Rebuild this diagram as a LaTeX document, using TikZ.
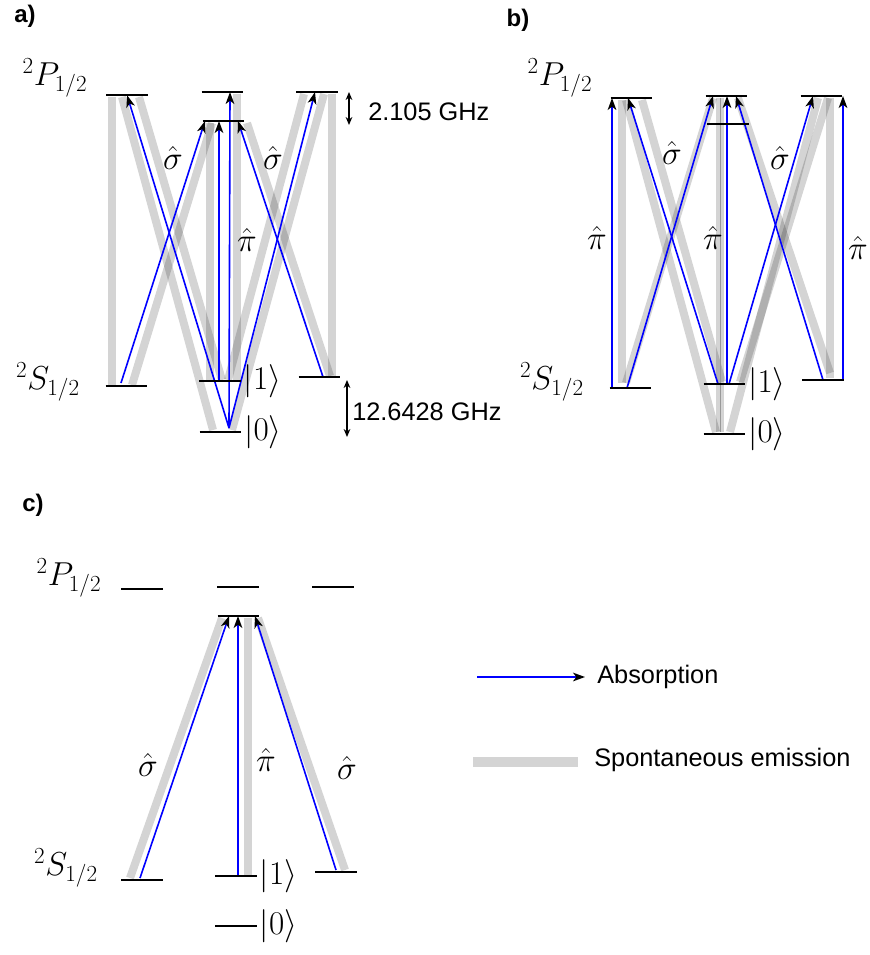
\documentclass[tikz,border=0pt]{standalone}
\usepackage{fontspec}
\setsansfont{Liberation Sans}
\usepackage{tikz}
\usetikzlibrary{positioning,arrows.meta,calc,backgrounds}
\tikzset{
  lvlnode/.style = {minimum width=31pt, minimum height=0pt, inner sep=0pt},
  lvl/.style     = {line width=2pt, draw=black},
  absn/.style    = {-{Stealth[length=9pt,width=6.5pt,inset=2.5pt,black]}, draw=blue, line width=1.2pt},
  emis/.style    = {draw=black, opacity=0.17, line width=6pt},
  mlab/.style    = {font=\fontsize{25}{29}\selectfont, inner sep=0pt},
  ket/.style     = {mlab, anchor=west},
  glab/.style    = {font=\sffamily\fontsize{19}{22}\selectfont, inner sep=0pt, anchor=west},
  plab/.style    = {font=\sffamily\bfseries\fontsize{18}{22}\selectfont, inner sep=0pt},
  gap/.style     = {{Stealth[length=6pt,width=5pt]}-{Stealth[length=6pt,width=5pt]}, line width=1pt},
}

\begin{document}
\begin{tikzpicture}[x=0.75pt, y=-0.75pt]
  \useasboundingbox (0,0) rectangle (869,955);

  % ---------------- a) ----------------
  \node[plab] (aTag) at (25,16) {a)};
  \node[lvlnode] (aPL) at (127,95) {};
  \node[lvlnode] (aPU) at (222.5,92) {};
  \node[lvlnode] (aPF) at (223.5,121) {};
  \node[lvlnode] (aPR) at (317,92) {};
  \node[lvlnode] (aSL) at (126.5,386) {};
  \node[lvlnode] (aS1) at (220,381) {};
  \node[lvlnode] (aS0) at (220.5,432) {};
  \node[lvlnode] (aSR) at (319.5,377) {};
  \begin{scope}[on background layer]
    \draw[emis] ($(aPL)+(-15,2)$) -- ($(aSL)+(-14.5,-1)$);
    \draw[emis] ($(aPL)+(-5,2)$) -- ($(aS0)+(-7.5,-2)$);
    \draw[emis] ($(aPL)+(12,2)$) -- ($(aS1)+(2,-1)$);
    \draw[emis] ($(aPF)+(-11.5,2)$) -- ($(aSL)+(5.5,-1)$);
    \draw[emis] ($(aPF)+(-13.5,2)$) -- ($(aS1)+(-10,-1)$);
    \draw[emis] ($(aPF)+(23.5,2)$) -- ($(aSR)+(10.5,-1)$);
    \draw[emis] ($(aPU)+(14.5,2)$) -- ($(aS1)+(17,-1)$);
    \draw[emis] ($(aPR)+(15,2)$) -- ($(aSR)+(12.5,-1)$);
    \draw[emis] ($(aPR)+(-13,2)$) -- ($(aS1)+(8,-1)$);
    \draw[emis] ($(aPR)+(7,2)$) -- ($(aS0)+(11.5,-2)$);
  \end{scope}
  \draw[absn] ($(aS0)+(8.5,-4)$) -- (aPL);
  \draw[absn] ($(aSL)+(-5.5,-3)$) -- ($(aPF)+(-18.5,0)$);
  \draw[absn] ($(aS1)+(-1,0)$) -- ($(aPF)+(-4.5,0)$);
  \draw[absn] ($(aS0)+(8.5,-4)$) -- ($(aPU)+(7.5,0)$);
  \draw[absn] ($(aSR)+(3.5,0)$) -- ($(aPF)+(14.5,0)$);
  \draw[absn] ($(aS0)+(8.5,-4)$) -- ($(aPR)+(-2,0)$);
  \draw[gap] ($(aPU)+(126.5,0)$) -- ($(aPF)+(125.5,4)$);
  \draw[gap] ($(aS1)+(127,-1)$) -- ($(aS0)+(126.5,5)$);
  \node[glab] (aHF)  at (368,112) {2.105 GHz};
  \node[glab] (aGHF) at (352,412) {12.6428 GHz};
  \node[mlab] (aPlab) at (55,78) {$^2P_{1/2}$};
  \node[mlab] (aSlab) at (48,382) {$^2S_{1/2}$};
  \node[ket, right=2pt of aS1] (aK1) {$|1\rangle$};
  \node[ket, right=2pt of aS0] (aK0) {$|0\rangle$};
  \node[mlab] (aSgL) at (173,158) {$\hat\sigma$};
  \node[mlab] (aSgR) at (273,158) {$\hat\sigma$};
  \node[mlab] (aPi)  at (247,240) {$\hat\pi$};

  % ---------------- b) ----------------
  \node[plab] (bTag) at (518,20) {b)};
  \node[lvlnode] (bPL) at (631.5,98) {};
  \node[lvlnode] (bPU) at (726.5,96) {};
  \node[lvlnode] (bPF) at (728,124) {};
  \node[lvlnode] (bPR) at (821.5,96) {};
  \node[lvlnode] (bSL) at (630.5,388) {};
  \node[lvlnode] (bS1) at (724.5,384) {};
  \node[lvlnode] (bS0) at (724.5,434) {};
  \node[lvlnode] (bSR) at (823,380) {};
  \begin{scope}[on background layer]
    \draw[emis] ($(bPL)+(-9.5,2)$) -- ($(bSL)+(-8.5,-5)$);
    \draw[emis] ($(bPL)+(-5.5,2)$) -- ($(bS0)+(-8.5,-2)$);
    \draw[emis] ($(bPL)+(10.5,2)$) -- ($(bS1)+(-2.5,-2)$);
    \draw[emis] ($(bSL)+(-4.5,-5)$) -- ($(bPU)+(-13.5,2)$);
    \draw[emis] ($(bPU)+(-6.5,2)$) -- ($(bS0)+(-4.5,-2)$);
    \draw[emis] ($(bPR)+(-3.5,2)$) -- ($(bS0)+(5.5,-2)$);
    \draw[emis] ($(bPR)+(6.5,2)$) -- ($(bS1)+(15.5,-2)$);
    \draw[emis] ($(bSR)+(7,-7)$) -- ($(bPU)+(11.5,2)$);
    \draw[emis] ($(bPR)+(8.5,2)$) -- ($(bSR)+(7,-2)$);
    \draw[black!40, line width=0.5pt] ($(bPU)+(-6.5,2)$) -- ($(bS0)+(-4.5,-2)$);
  \end{scope}
  \draw[absn] ($(bSL)+(-18.5,0)$) -- ($(bPL)+(-19.5,0)$);
  \draw[absn] ($(bS1)+(-6.5,0)$) -- ($(bPL)+(-3.5,0)$);
  \draw[absn] ($(bSL)+(-3.5,0)$) -- ($(bPU)+(-13.5,0)$);
  \draw[absn] ($(bS1)+(2.5,0)$) -- ($(bPU)+(0.5,0)$);
  \draw[absn] (bSR) -- ($(bPU)+(9.5,0)$);
  \draw[absn] ($(bS1)+(4.5,0)$) -- ($(bPR)+(-8.5,0)$);
  \draw[absn] ($(bSR)+(20,0)$) -- ($(bPR)+(21.5,0)$);
  \node[mlab] (bPlab) at (560,78) {$^2P_{1/2}$};
  \node[mlab] (bSlab) at (552,382) {$^2S_{1/2}$};
  \node[ket, right=2pt of bS1] (bK1) {$|1\rangle$};
  \node[ket, right=2pt of bS0] (bK0) {$|0\rangle$};
  \node[mlab] (bSgL) at (672,153) {$\hat\sigma$};
  \node[mlab] (bSgR) at (780,158) {$\hat\sigma$};
  \node[mlab] (bPiL) at (597,238) {$\hat\pi$};
  \node[mlab] (bPiM) at (713,238) {$\hat\pi$};
  \node[mlab] (bPiR) at (858,248) {$\hat\pi$};

  % ---------------- c) ----------------
  \node[plab] (cTag) at (33,505) {c)};
  \node[lvlnode] (cPL) at (142,589) {};
  \node[lvlnode] (cPU) at (238,587) {};
  \node[lvlnode] (cPR) at (333,587) {};
  \node[lvlnode] (cPF) at (238.5,616) {};
  \node[lvlnode] (cSL) at (142,880) {};
  \node[lvlnode] (cS1) at (236,876) {};
  \node[lvlnode] (cSR) at (336,872) {};
  \node[lvlnode] (cS0) at (236,926) {};
  \begin{scope}[on background layer]
    \draw[emis] ($(cSL)+(-12,-2)$) -- ($(cPF)+(-16.5,2)$);
    \draw[emis] ($(cPF)+(9.5,2)$) -- ($(cS1)+(12,0)$);
    \draw[emis] ($(cSR)+(9,-2)$) -- ($(cPF)+(19.5,2)$);
  \end{scope}
  \draw[absn] ($(cSL)+(-2,-2)$) -- ($(cPF)+(-9.5,0)$);
  \draw[absn] ($(cS1)+(2,0)$) -- ($(cPF)+(-0.5,0)$);
  \draw[absn] ($(cSR)+(0,-2)$) -- ($(cPF)+(16.5,0)$);
  \node[mlab] (cPlab) at (69,578) {$^2P_{1/2}$};
  \node[mlab] (cSlab) at (66,868) {$^2S_{1/2}$};
  \node[ket, right=2pt of cS1] (cK1) {$|1\rangle$};
  \node[ket, right=2pt of cS0] (cK0) {$|0\rangle$};
  \node[mlab] (cSgL) at (148,765) {$\hat\sigma$};
  \node[mlab] (cPi)  at (266,760) {$\hat\pi$};
  \node[mlab] (cSgR) at (347,768) {$\hat\sigma$};

  % level lines
  \foreach \n in {aPL,aPU,aPF,aPR,aSL,aS1,aS0,aSR,
                  bPL,bPU,bPF,bPR,bSL,bS1,bS0,bSR,
                  cPL,cPU,cPR,cPF,cSL,cS1,cSR,cS0}
    \draw[lvl] (\n.west) -- (\n.east);

  % ---------------- legend ----------------
  \coordinate (lgA0) at (477,677);
  \coordinate (lgA1) at (585,677);
  \coordinate (lgE0) at (473,762);
  \coordinate (lgE1) at (578,762);
  \draw[absn] (lgA0) -- (lgA1);
  \draw[emis, line width=7.5pt] (lgE0) -- (lgE1);
  \node[glab] (lgAbs) at (597,677) {Absorption};
  \node[glab] (lgEm)  at (594,760) {Spontaneous emission};
\end{tikzpicture}
\end{document}
